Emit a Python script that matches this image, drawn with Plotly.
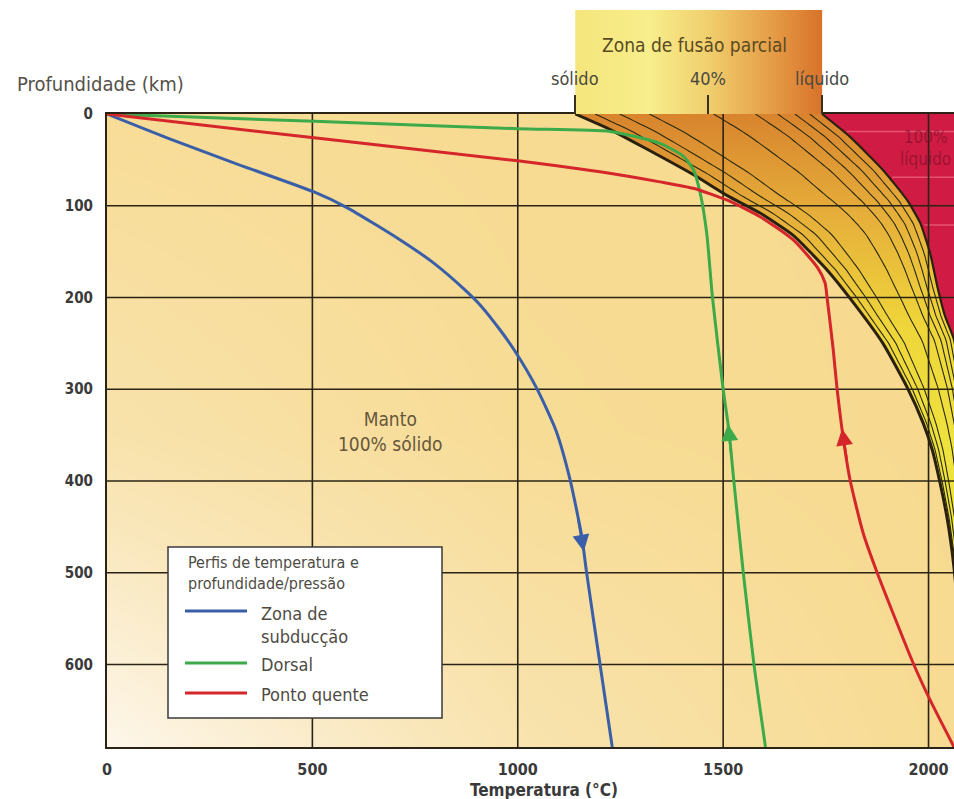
import numpy as np
import plotly.graph_objects as go

# ---------------- data ----------------
temp_ticks = [0, 500, 1000, 1500, 2000]
depth_ticks = [0, 100, 200, 300, 400, 500, 600]

subduction_depth = [0, 26, 53, 85, 102, 137, 162, 192, 210, 236, 257, 298, 345, 398, 461, 498, 599, 690]
subduction_temp = [0, 146, 307, 504, 584, 713, 794, 872, 912, 958, 991, 1045, 1093, 1127, 1156, 1167, 1200, 1230]

ridge_depth = [0, 8, 16, 19, 32, 46, 61, 86, 130, 200, 300, 345, 400, 500, 600, 690]
ridge_temp = [0, 505, 1000, 1225, 1346, 1403, 1428, 1444, 1460, 1474, 1500, 1514, 1526, 1549, 1575, 1603]

hotspot_depth = [0, 26, 51, 63, 74, 81, 94, 112, 137, 167, 184, 200, 257, 298, 352, 399, 457, 500, 599, 639, 690]
hotspot_temp = [0, 504, 1000, 1200, 1346, 1427, 1510, 1590, 1670, 1729, 1748, 1753, 1768, 1777, 1792, 1809, 1841, 1875, 1963, 2004, 2062]

solidus_depth = [0, 17, 36, 66, 89, 108, 132, 170, 201, 250, 298, 337, 366, 402, 440, 476, 508, 574, 639, 690]
solidus_temp = [1140, 1225, 1305, 1427, 1510, 1590, 1670, 1753, 1809, 1889, 1948, 1987, 2009, 2028, 2045, 2057, 2065, 2077, 2084, 2089]

liquidus_depth = [0, 25, 61, 94, 119, 152, 189, 220, 246, 300, 360, 443, 530, 690]
liquidus_temp = [1741, 1809, 1889, 1948, 1980, 2004, 2022, 2040, 2062, 2082, 2095, 2106, 2112, 2120]

melt_fractions = [0.08, 0.18, 0.30, 0.56, 0.73, 0.82, 0.89, 0.95]

fusion_ticks = [1140, 1462, 1741]
fusion_labels = ["sólido", "40%", "líquido"]

liquid_stripe_depths = [19, 69, 121]

series_names = ["Zona de subducção", "Dorsal", "Ponto quente"]
legend_title = "Perfis de temperatura e<br>profundidade/pressão"
legend_labels = [["Zona de", "subducção"], ["Dorsal"], ["Ponto quente"]]

# ---------------- style ----------------
X_MAX = 2062
D_MAX = 690
BLUE = "#3a5fa8"
GREEN = "#3daa4a"
RED = "#d4262b"
GRID = "#2b2416"
TXT = "#4e4b44"
FONT = "DejaVu Sans Condensed, DejaVu Sans, sans-serif"
TICKFONT = "DejaVu Sans Condensed, Liberation Sans Narrow, DejaVu Sans, sans-serif"

W, H = 954, 799
ML, MR, MT, MB = 107, 0, 10, 52
PW = W - ML - MR
PH = H - MT - MB
main_top = (747 - 114) / PH


def px(x):
    return (x - ML) / PW


def py(y):
    return (H - MB - y) / PH


fig = go.Figure()

# background gradient of the mantle area
fig.add_trace(go.Heatmap(
    x=[0, X_MAX / 2, X_MAX], y=[0, D_MAX / 2, D_MAX],
    z=[[0.10, 0.03, 0.0], [0.35, 0.08, 0.0], [1.0, 0.38, 0.04]],
    colorscale=[[0, "#f7da8f"], [0.5, "#f9e6b8"], [1, "#fdf6ea"]],
    zsmooth="best", showscale=False, hoverinfo="skip"))

# partial melting zone
fig.add_trace(go.Scatter(
    x=solidus_temp + liquidus_temp[::-1], y=solidus_depth + liquidus_depth[::-1],
    mode="lines", line=dict(width=0), fill="toself",
    fillgradient=dict(type="vertical", start=0, stop=360,
                      colorscale=[[0, "#d8842e"], [0.3, "#e6ae3a"], [0.65, "#efd63a"], [1, "#eee23e"]]),
    showlegend=False, hoverinfo="skip"))

# 100% liquid region
fig.add_trace(go.Scatter(
    x=liquidus_temp + [2600, 2600], y=liquidus_depth + [D_MAX, 0],
    mode="lines", line=dict(width=0), fill="toself", fillcolor="#d01c45",
    showlegend=False, hoverinfo="skip"))

# faint light stripes in the liquid region
sx, sy = [], []
for d in liquid_stripe_depths:
    sx += [float(np.interp(d, liquidus_depth, liquidus_temp)) + 8, X_MAX + 50, None]
    sy += [d, d, None]
fig.add_trace(go.Scatter(x=sx, y=sy, mode="lines", line=dict(color="rgba(255,150,170,0.45)", width=1.5),
                         showlegend=False, hoverinfo="skip"))

# grid lines (above fills)
gx, gy = [], []
for t in temp_ticks[1:]:
    gx += [t, t, None]
    gy += [0, D_MAX, None]
for d in depth_ticks[1:]:
    gx += [0, X_MAX + 50, None]
    gy += [d, d, None]
fig.add_trace(go.Scatter(x=gx, y=gy, mode="lines", line=dict(color=GRID, width=1.6),
                         showlegend=False, hoverinfo="skip"))

# melt-fraction isopleths
grid_d = np.linspace(0, D_MAX, 139)
t_sol = np.interp(grid_d, solidus_depth, solidus_temp)
t_liq = np.interp(grid_d, liquidus_depth, liquidus_temp)
ix, iy = [], []
for f in melt_fractions:
    ix += list(t_sol + f * (t_liq - t_sol)) + [None]
    iy += list(grid_d) + [None]
fig.add_trace(go.Scatter(x=ix, y=iy, mode="lines", line=dict(color="#2a2a14", width=1.1, shape="spline"),
                         showlegend=False, hoverinfo="skip"))
fig.add_trace(go.Scatter(x=liquidus_temp, y=liquidus_depth, mode="lines",
                         line=dict(color="#2a2010", width=2.2, shape="spline", smoothing=0.5),
                         showlegend=False, hoverinfo="skip"))
fig.add_trace(go.Scatter(x=solidus_temp, y=solidus_depth, mode="lines",
                         line=dict(color="#2a2010", width=3, shape="spline", smoothing=0.5),
                         showlegend=False, hoverinfo="skip"))

# profiles
profiles = [(series_names[0], subduction_temp, subduction_depth, BLUE),
            (series_names[1], ridge_temp, ridge_depth, GREEN),
            (series_names[2], hotspot_temp, hotspot_depth, RED)]
for name, xs, ys, col in profiles:
    fig.add_trace(go.Scatter(x=xs, y=ys, mode="lines", name=name, showlegend=False,
                             line=dict(color=col, width=3, shape="spline", smoothing=0.6),
                             hoverinfo="skip"))

# partial melting header box (top subplot)
fig.add_trace(go.Scatter(
    x=[fusion_ticks[0], fusion_ticks[0], fusion_ticks[-1], fusion_ticks[-1], fusion_ticks[0]],
    y=[0, 1, 1, 0, 0], xaxis="x3", yaxis="y2", mode="lines", line=dict(width=0), fill="toself",
    fillgradient=dict(type="horizontal", start=fusion_ticks[0], stop=fusion_ticks[-1],
                      colorscale=[[0, "#f5e57c"], [0.3, "#f8ee8c"], [0.55, "#f0cd6c"],
                                  [0.8, "#e59c46"], [1, "#d8722a"]]),
    showlegend=False, hoverinfo="skip"))

annotations = []
# arrows on the profiles
for xs, ys, col, tail, head in [(subduction_temp, subduction_depth, BLUE, 440, 477),
                                (ridge_temp, ridge_depth, GREEN, 372, 338),
                                (hotspot_temp, hotspot_depth, RED, 378, 343)]:
    annotations.append(dict(
        x=float(np.interp(head, ys, xs)), y=head,
        ax=float(np.interp(tail, ys, xs)), ay=tail,
        xref="x", yref="y", axref="x", ayref="y", text="", showarrow=True,
        arrowhead=2, arrowsize=1.4, arrowwidth=2.4, arrowcolor=col))

annotations += [
    dict(text="Manto<br>100% sólido", x=689, y=346, xref="x", yref="y", showarrow=False,
         xanchor="center", font=dict(family=FONT, size=19, color="#66573d")),
    dict(text="100%<br>líquido", x=1992, y=37, xref="x", yref="y", showarrow=False,
         xanchor="center", font=dict(family=FONT, size=17, color="rgba(110,10,30,0.55)")),
    dict(text="Zona de fusão parcial", x=px(694), y=py(45), xref="paper", yref="paper", showarrow=False,
         xanchor="center", yanchor="middle", font=dict(family=FONT, size=19, color="#5a4a22")),
    dict(text="Profundidade (km)", x=px(15), y=py(84), xref="paper", yref="paper",
         xanchor="left", yanchor="middle", showarrow=False,
         font=dict(family=FONT, size=20, color="#555048")),
    dict(text="Temperatura (°C)", x=px(544), y=py(790), xref="paper", yref="paper",
         xanchor="center", yanchor="middle", showarrow=False,
         font=dict(family=TICKFONT, size=17, color="#3a3a3a", weight="bold")),
]
for t, lab in zip(fusion_ticks, fusion_labels):
    annotations.append(dict(text=lab, x=t, y=py(78.5), xref="x", yref="paper", showarrow=False,
                            xanchor="center", yanchor="middle",
                            font=dict(family=FONT, size=18, color="#4a4a40")))

# manual legend box
shapes = [dict(type="rect", xref="paper", yref="paper", x0=px(168), x1=px(442), y0=py(718), y1=py(547),
               fillcolor="white", line=dict(color="#3a3a3a", width=1.5), layer="above")]
annotations.append(dict(text=legend_title, x=px(186), y=py(573), xref="paper", yref="paper",
                        xanchor="left", yanchor="middle", align="left", showarrow=False,
                        font=dict(family=FONT, size=16, color=TXT)))
entry_y = [611, 663, 693]
for (name, xs, ys, col), labs, ey in zip(profiles, legend_labels, entry_y):
    shapes.append(dict(type="line", xref="paper", yref="paper", x0=px(185), x1=px(247), y0=py(ey), y1=py(ey),
                       line=dict(color=col, width=3), layer="above"))
    annotations.append(dict(text="<br>".join(labs), x=px(259), y=py(ey + 1), xref="paper", yref="paper",
                            xanchor="left", yanchor="top" if len(labs) > 1 else "middle",
                            yshift=11 if len(labs) > 1 else 0, align="left", showarrow=False,
                            font=dict(family=FONT, size=18, color=TXT)))

fig.update_layout(
    width=W, height=H, margin=dict(l=ML, r=MR, t=MT, b=MB),
    paper_bgcolor="white", plot_bgcolor="rgba(0,0,0,0)",
    xaxis=dict(range=[0, X_MAX], domain=[0, 1], anchor="y", tickvals=temp_ticks,
               showgrid=False, zeroline=False, showline=True, mirror=True, linecolor=GRID, linewidth=2,
               ticks="", ticklabelstandoff=7,
               tickfont=dict(family=TICKFONT, size=16, color="#3a3a3a", weight="bold")),
    yaxis=dict(range=[D_MAX, 0], domain=[0, main_top], anchor="x", tickvals=depth_ticks,
               showgrid=False, zeroline=False, showline=True, linecolor=GRID, linewidth=2,
               ticks="", ticklabelstandoff=9,
               tickfont=dict(family=TICKFONT, size=15, color="#3a3a3a", weight="bold")),
    xaxis3=dict(matches="x", anchor="y2", domain=[0, 1], tickvals=fusion_ticks, ticks="inside",
                ticklen=19, tickwidth=1.6, tickcolor="#3a3020", showticklabels=False,
                showgrid=False, zeroline=False, showline=False),
    yaxis2=dict(domain=[main_top, 1], range=[0, 1], anchor="x3", visible=False),
    annotations=annotations,
    shapes=shapes,
    showlegend=False,
)

fig.write_html("out.html", config={"displayModeBar": False},
               post_script="document.body.style.margin='0px';")
